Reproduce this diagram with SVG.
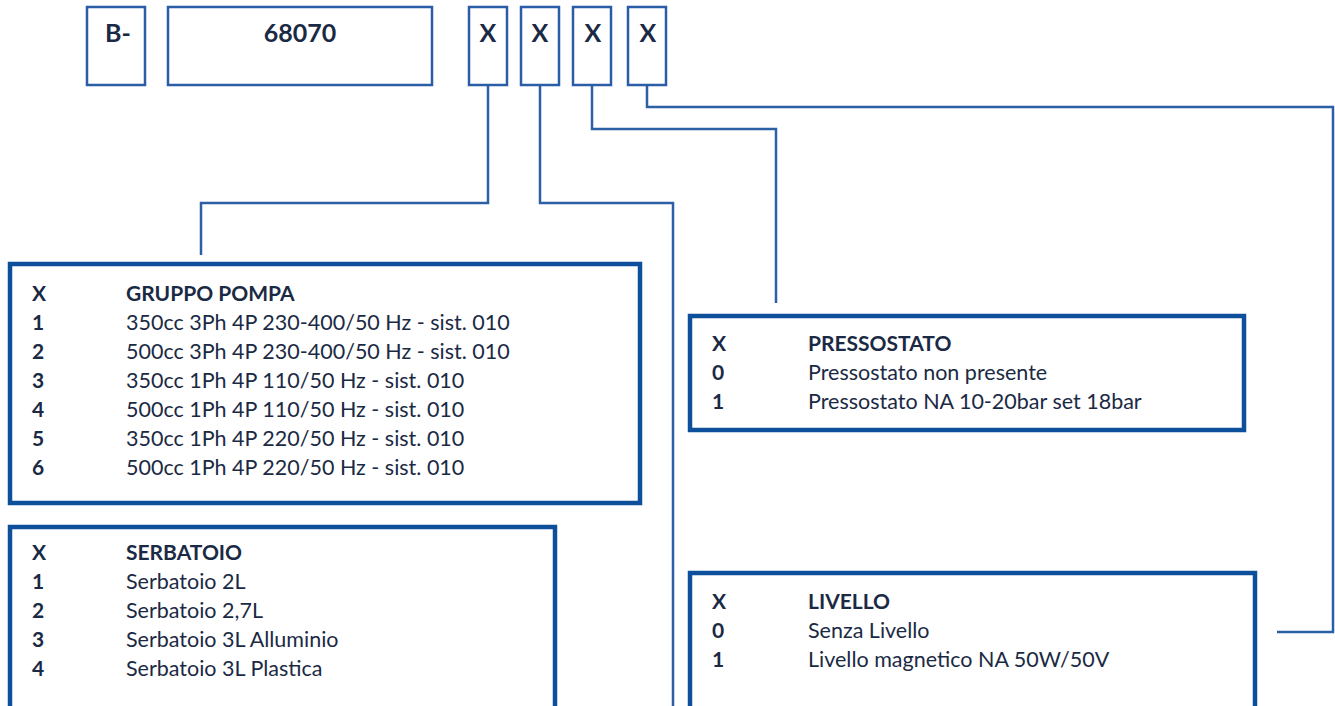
<svg xmlns="http://www.w3.org/2000/svg" width="1335" height="706" viewBox="0 0 1335 706">
<style>
.code{fill:#fff;stroke:#2a5da6;stroke-width:2.5}
.box{fill:#fff;stroke:#0d4f9a;stroke-width:4.5}
.conn{fill:none;stroke:#2d5fa6;stroke-width:2.5}
text{font-family:Lato,"Open Sans",sans-serif;fill:#1b2a44;font-size:21.5px}
.b{font-weight:bold;font-size:21px}
.top{font-weight:bold;font-size:25px;text-anchor:middle}
</style>
<rect width="1335" height="706" fill="#fff"/>
<g id="conns">
<polyline class="conn" points="488,85 488,203 201,203 201,255"/>
<polyline class="conn" points="540,85 540,203 673,203 673,706"/>
<polyline class="conn" points="592,85 592,129 776,129 776,303"/>
<polyline class="conn" points="647,85 647,107 1333,107 1333,632 1277,632"/>
</g>
<g id="code-b"><rect class="code" x="87" y="7" width="58" height="78"/><text class="top" x="118" y="42">B-</text></g>
<g id="code-num"><rect class="code" x="168" y="7" width="264" height="78"/><text class="top" x="300" y="42">68070</text></g>
<g id="code-x1"><rect class="code" x="469" y="7" width="38" height="78"/><text class="top" x="488" y="42">X</text></g>
<g id="code-x2"><rect class="code" x="521" y="7" width="38" height="78"/><text class="top" x="540" y="42">X</text></g>
<g id="code-x3"><rect class="code" x="573" y="7" width="38" height="78"/><text class="top" x="593" y="42">X</text></g>
<g id="code-x4"><rect class="code" x="628" y="7" width="38" height="78"/><text class="top" x="648" y="42">X</text></g>
<g id="gruppo-pompa">
<rect class="box" x="10" y="264" width="630" height="239"/>
<text class="b" x="32" y="301">X</text><text class="b" x="126" y="301">GRUPPO POMPA</text>
<text class="b" x="32" y="330">1</text><text x="126" y="330">350cc 3Ph 4P 230-400/50 Hz - sist. 010</text>
<text class="b" x="32" y="359">2</text><text x="126" y="359">500cc 3Ph 4P 230-400/50 Hz - sist. 010</text>
<text class="b" x="32" y="388">3</text><text x="126" y="388">350cc 1Ph 4P 110/50 Hz - sist. 010</text>
<text class="b" x="32" y="417">4</text><text x="126" y="417">500cc 1Ph 4P 110/50 Hz - sist. 010</text>
<text class="b" x="32" y="446">5</text><text x="126" y="446">350cc 1Ph 4P 220/50 Hz - sist. 010</text>
<text class="b" x="32" y="475">6</text><text x="126" y="475">500cc 1Ph 4P 220/50 Hz - sist. 010</text>
</g>
<g id="serbatoio">
<rect class="box" x="10" y="527" width="545" height="190"/>
<text class="b" x="32" y="560">X</text><text class="b" x="126" y="560">SERBATOIO</text>
<text class="b" x="32" y="589">1</text><text x="126" y="589">Serbatoio 2L</text>
<text class="b" x="32" y="618">2</text><text x="126" y="618">Serbatoio 2,7L</text>
<text class="b" x="32" y="647">3</text><text x="126" y="647">Serbatoio 3L Alluminio</text>
<text class="b" x="32" y="676">4</text><text x="126" y="676">Serbatoio 3L Plastica</text>
</g>
<g id="pressostato">
<rect class="box" x="690" y="316" width="554" height="114"/>
<text class="b" x="712" y="351">X</text><text class="b" x="808" y="351">PRESSOSTATO</text>
<text class="b" x="712" y="380">0</text><text x="808" y="380">Pressostato non presente</text>
<text class="b" x="712" y="409">1</text><text x="808" y="409">Pressostato NA 10-20bar set 18bar</text>
</g>
<g id="livello">
<rect class="box" x="690" y="573" width="565" height="150"/>
<text class="b" x="712" y="609">X</text><text class="b" x="808" y="609">LIVELLO</text>
<text class="b" x="712" y="638">0</text><text x="808" y="638">Senza Livello</text>
<text class="b" x="712" y="667">1</text><text x="808" y="667">Livello magnetico NA 50W/50V</text>
</g>
</svg>
